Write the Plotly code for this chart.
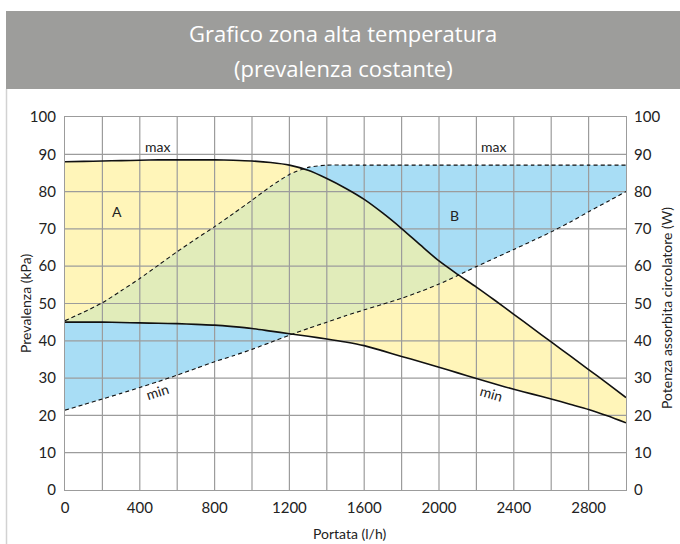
import numpy as np
import plotly.graph_objects as go

# Portata (l/h)
portata = [0, 100, 200, 300, 400, 500, 600, 700, 800, 900, 1000, 1100, 1200, 1300, 1400, 1500,
           1600, 1700, 1800, 1900, 2000, 2100, 2200, 2300, 2400, 2500, 2600, 2700, 2800, 2900, 3000]

# Prevalenza circolatore (kPa) - curva max e curva min
prevalenza_max = [88.0, 88.1, 88.2, 88.3, 88.4, 88.5, 88.5, 88.5, 88.5, 88.4, 88.2, 87.8, 87.1, 85.7, 83.5, 80.9,
                  77.9, 74.2, 70.1, 65.7, 61.4, 57.8, 54.4, 50.8, 47.1, 43.4, 39.7, 36.0, 32.3, 28.6, 24.8]
prevalenza_min = [45.0, 45.0, 45.0, 44.9, 44.8, 44.7, 44.6, 44.4, 44.2, 43.8, 43.3, 42.6, 41.9, 41.2, 40.5, 39.7,
                  38.7, 37.3, 35.8, 34.4, 32.9, 31.4, 29.9, 28.4, 27.0, 25.7, 24.4, 23.0, 21.6, 19.9, 18.0]

# Potenza assorbita circolatore (W) - curva max e curva min
potenza_max = [45.4, 47.7, 50.2, 53.4, 56.7, 60.3, 63.9, 67.3, 70.6, 74.1, 77.7, 81.4, 84.6, 86.5, 87.1, 87.1,
               87.1, 87.1, 87.1, 87.1, 87.1, 87.1, 87.1, 87.1, 87.1, 87.1, 87.1, 87.1, 87.1, 87.1, 87.1]
potenza_min = [21.4, 22.9, 24.4, 25.9, 27.5, 29.1, 30.8, 32.6, 34.4, 36.0, 37.7, 39.6, 41.5, 43.3, 45.0, 46.7,
               48.3, 49.8, 51.4, 53.2, 55.2, 57.5, 59.9, 62.2, 64.5, 66.8, 69.2, 71.8, 74.6, 77.3, 80.0]

x_ticks = [0, 400, 800, 1200, 1600, 2000, 2400, 2800]
y_ticks = [0, 10, 20, 30, 40, 50, 60, 70, 80, 90, 100]

# Etichette nel grafico: (testo, portata, valore, angolo)
etichette = [
    ("max", 493, 92.0, 0),
    ("max", 2289, 92.0, 0),
    ("A", 277, 74.7, 0),
    ("B", 2083, 73.7, 0),
    ("min", 495, 26.4, -18),
    ("min", 2281, 25.9, 16),
]

GIALLO = "#fff5b9"
AZZURRO = "#a8ddf5"
VERDE = "#e1ecba"
GRIGLIA = "#9c9c9c"
FONT = "Lato"

W, H = 680, 544
ML, MR, MT, MB = 65, 54, 117, 54
PW, PH = W - ML - MR, H - MT - MB


def px_x(p):
    return (p - ML) / PW


def px_y(p):
    return (H - MB - p) / PH


def overlap(x, top_a, top_b, bot_a, bot_b):
    """Poligono dell'area comune alle due fasce (piecewise lineare)."""
    x = np.asarray(x, float)
    top_a, top_b = np.asarray(top_a, float), np.asarray(top_b, float)
    bot_a, bot_b = np.asarray(bot_a, float), np.asarray(bot_b, float)
    xs = list(x)
    for a, b in ((top_a, top_b), (bot_a, bot_b)):
        d = a - b
        for i in range(1, len(x)):
            if d[i - 1] * d[i] < 0:
                t = d[i - 1] / (d[i - 1] - d[i])
                xs.append(x[i - 1] + t * (x[i] - x[i - 1]))
    xs = np.array(sorted(set(xs)))
    up = np.minimum(np.interp(xs, x, top_a), np.interp(xs, x, top_b))
    lo = np.maximum(np.interp(xs, x, bot_a), np.interp(xs, x, bot_b))
    d = up - lo
    px, pu, pl = [], [], []
    for i in range(len(xs)):
        if i > 0 and d[i - 1] * d[i] < 0:
            t = d[i - 1] / (d[i - 1] - d[i])
            xc = xs[i - 1] + t * (xs[i] - xs[i - 1])
            yc = up[i - 1] + t * (up[i] - up[i - 1])
            px.append(xc); pu.append(yc); pl.append(yc)
        if d[i] >= 0:
            px.append(xs[i]); pu.append(up[i]); pl.append(lo[i])
    return px + px[::-1], pu + pl[::-1]


fig = go.Figure()

# Fascia A (circolatore)
fig.add_trace(go.Scatter(
    x=portata + portata[::-1], y=prevalenza_max + prevalenza_min[::-1],
    fill="toself", fillcolor=GIALLO, line=dict(width=0), mode="lines",
    hoverinfo="skip", showlegend=False))

# Fascia B (potenza assorbita)
fig.add_trace(go.Scatter(
    x=portata + portata[::-1], y=potenza_max + potenza_min[::-1],
    fill="toself", fillcolor=AZZURRO, line=dict(width=0), mode="lines",
    hoverinfo="skip", showlegend=False))

# Zona comune
ox, oy = overlap(portata, prevalenza_max, potenza_max, prevalenza_min, potenza_min)
fig.add_trace(go.Scatter(
    x=ox, y=oy, fill="toself", fillcolor=VERDE, line=dict(width=0), mode="lines",
    hoverinfo="skip", showlegend=False))

# Griglia sopra le fasce colorate
gx, gy = [], []
for v in range(200, 3000, 200):
    gx += [v, v, None]
    gy += [0, 100, None]
for v in y_ticks[1:-1]:
    gx += [0, 3000, None]
    gy += [v, v, None]
fig.add_trace(go.Scatter(x=gx, y=gy, mode="lines", line=dict(color=GRIGLIA, width=1.2),
                         hoverinfo="skip", showlegend=False))

# Curve del circolatore (linea continua)
for serie in (prevalenza_max, prevalenza_min):
    fig.add_trace(go.Scatter(x=portata, y=serie, mode="lines",
                             line=dict(color="#111111", width=1.6, shape="spline", smoothing=0.8),
                             hoverinfo="skip", showlegend=False))

# Curve di potenza (tratteggio)
for serie in (potenza_max, potenza_min):
    fig.add_trace(go.Scatter(x=portata, y=serie, mode="lines", yaxis="y2",
                             line=dict(color="#111111", width=1.1, dash="4px,3px",
                                       shape="spline", smoothing=0.6),
                             hoverinfo="skip", showlegend=False))

tick_font = dict(family=FONT, size=15, color="#222222")
fig.update_layout(
    width=W, height=H,
    margin=dict(l=ML, r=MR, t=MT, b=MB),
    paper_bgcolor="white", plot_bgcolor="white",
    xaxis=dict(range=[0, 3000], tickmode="array", tickvals=x_ticks,
               ticktext=[str(v) for v in x_ticks], showgrid=False, zeroline=False,
               showline=True, mirror=True, linecolor=GRIGLIA, linewidth=1.2,
               ticks="", tickfont=tick_font, ticklabelstandoff=4),
    yaxis=dict(range=[0, 100], tickmode="array", tickvals=y_ticks,
               showgrid=False, zeroline=False, showline=True, mirror=True,
               linecolor=GRIGLIA, linewidth=1.2, ticks="", tickfont=tick_font,
               ticklabelstandoff=5),
    yaxis2=dict(range=[0, 100], tickmode="array", tickvals=y_ticks, overlaying="y",
                side="right", showgrid=False, zeroline=False, showline=False,
                ticks="", tickfont=tick_font, ticklabelstandoff=7),
)

# Barra del titolo e bordo sinistro
fig.add_shape(type="rect", xref="paper", yref="paper",
              x0=px_x(6), x1=px_x(W), y0=px_y(89), y1=px_y(11),
              fillcolor="#9d9d9b", line=dict(width=0), layer="below")
fig.add_shape(type="line", xref="paper", yref="paper",
              x0=px_x(6.5), x1=px_x(6.5), y0=px_y(89), y1=px_y(H),
              line=dict(color="#d2d2d2", width=1.5))

fig.add_annotation(text="Grafico zona alta temperatura", xref="paper", yref="paper",
                   x=px_x(343), y=px_y(33), showarrow=False, xanchor="center", yanchor="middle",
                   font=dict(family="Open Sans", size=22, color="white"))
fig.add_annotation(text="(prevalenza costante)", xref="paper", yref="paper",
                   x=px_x(343), y=px_y(68), showarrow=False, xanchor="center", yanchor="middle",
                   font=dict(family="Open Sans", size=22, color="white"))

titolo_font = dict(family=FONT, size=14, color="#222222")
fig.add_annotation(text="Portata (l/h)", xref="paper", yref="paper",
                   x=px_x(349), y=px_y(533), showarrow=False, xanchor="center", yanchor="middle",
                   font=titolo_font)
fig.add_annotation(text="Prevalenza (kPa)", xref="paper", yref="paper",
                   x=px_x(25), y=px_y(304), showarrow=False, xanchor="center", yanchor="middle",
                   textangle=-90, font=titolo_font)
fig.add_annotation(text="Potenza assorbita circolatore (W)", xref="paper", yref="paper",
                   x=px_x(666), y=px_y(308), showarrow=False, xanchor="center", yanchor="middle",
                   textangle=-90, font=titolo_font)

for testo, xv, yv, ang in etichette:
    fig.add_annotation(text=testo, x=xv, y=yv, xref="x", yref="y", showarrow=False,
                       textangle=ang, xanchor="center", yanchor="middle",
                       font=dict(family=FONT, size=14, color="#222222"))

fig.write_html("out.html")
